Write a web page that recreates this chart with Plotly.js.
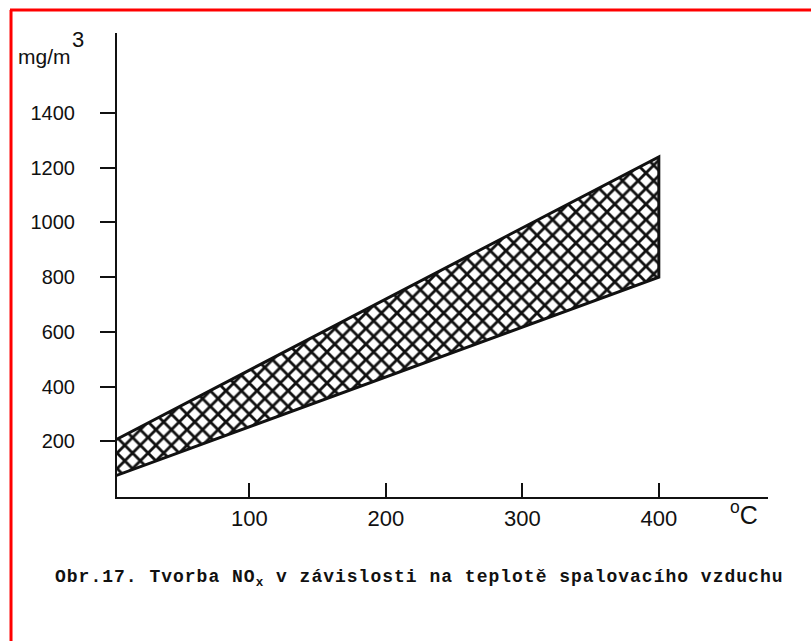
<!DOCTYPE html>
<html>
<head>
<meta charset="utf-8">
<script src="https://cdn.plot.ly/plotly-3.0.1.min.js"></script>
<style>
  html, body { margin: 0; padding: 0; background: #fff; }
  #chart { width: 811px; height: 641px; }
  .annotation[data-index="3"] text { letter-spacing: 1px; }
</style>
</head>
<body>
<div id="chart"></div>
<script>
// Data (temperature of combustion air vs NOx)
const temps = [0, 100, 200, 300, 400];          // °C
const upperNOx = [200, 460, 720, 980, 1240];    // mg/m3, upper bound of band
const lowerNOx = [70, 252, 435, 617, 800];      // mg/m3, lower bound of band
const xTicks = [100, 200, 300, 400];
const yTicks = [200, 400, 600, 800, 1000, 1200, 1400];
const yUnit = 'mg/m';
const yUnitExp = '3';
const xUnit = '<sup>o</sup>C';
const caption = 'Obr.17. Tvorba NO<sub>x</sub> v závislosti na teplotě spalovacího vzduchu';

const bandX = temps.concat(temps.slice().reverse());
const bandY = upperNOx.concat(lowerNOx.slice().reverse());

const ink = '#111111';

const traces = [{
  type: 'scatter',
  mode: 'lines',
  x: bandX,
  y: bandY,
  fill: 'toself',
  fillcolor: 'white',
  fillpattern: { shape: 'x', size: 11, solidity: 0.45, fgcolor: ink, bgcolor: 'white' },
  line: { color: ink, width: 3 },
  hoverinfo: 'skip',
  showlegend: false
}];

const layout = {
  width: 811,
  height: 641,
  margin: { l: 117, r: 43, t: 33, b: 144 },
  paper_bgcolor: 'white',
  plot_bgcolor: 'white',
  font: { family: 'Liberation Sans, Arial, sans-serif', color: ink, size: 20 },
  xaxis: {
    range: [3, 480],
    tickvals: xTicks,
    ticktext: xTicks.map(String),
    ticks: 'inside',
    ticklen: 14,
    tickwidth: 2,
    tickcolor: ink,
    showline: true,
    linecolor: ink,
    linewidth: 2,
    showgrid: false,
    zeroline: false,
    ticklabelstandoff: 1,
    tickfont: { size: 22, color: ink }
  },
  yaxis: {
    range: [-4, 1693],
    tickvals: yTicks,
    ticktext: yTicks.map(String),
    ticks: 'outside',
    ticklen: 15,
    tickwidth: 2,
    tickcolor: ink,
    showline: true,
    linecolor: ink,
    linewidth: 2,
    showgrid: false,
    zeroline: false,
    ticklabelstandoff: 21,
    tickfont: { size: 20, color: ink }
  },
  annotations: [
    { xref: 'paper', yref: 'paper', x: -0.155, y: 0.95, xanchor: 'left', yanchor: 'middle',
      text: yUnit, showarrow: false, align: 'left', font: { size: 21, color: ink } },
    { xref: 'paper', yref: 'paper', x: -0.072, y: 0.987, xanchor: 'left', yanchor: 'middle',
      text: yUnitExp, showarrow: false, align: 'left', font: { size: 22, color: ink } },
    { xref: 'paper', yref: 'paper', x: 0.9386, y: -0.035, xanchor: 'left', yanchor: 'middle',
      text: xUnit, showarrow: false, align: 'left', font: { size: 25, color: ink } },
    { xref: 'paper', yref: 'paper', x: -0.0983, y: -0.176, xanchor: 'left', yanchor: 'middle',
      text: '<b>' + caption + '</b>', showarrow: false, align: 'left',
      font: { family: 'Liberation Mono, Courier New, monospace', size: 18, color: ink } }
  ],
  shapes: [
    { type: 'line', xref: 'paper', yref: 'paper', x0: -0.1644, x1: 1.07, y0: 1.0496, y1: 1.0496,
      line: { color: '#ff0000', width: 3 } },
    { type: 'line', xref: 'paper', yref: 'paper', x0: -0.1628, x1: -0.1628, y0: 1.0496, y1: -0.32,
      line: { color: '#ff0000', width: 3 } }
  ]
};

Plotly.newPlot('chart', traces, layout, { displayModeBar: false, staticPlot: true });
</script>
</body>
</html>
